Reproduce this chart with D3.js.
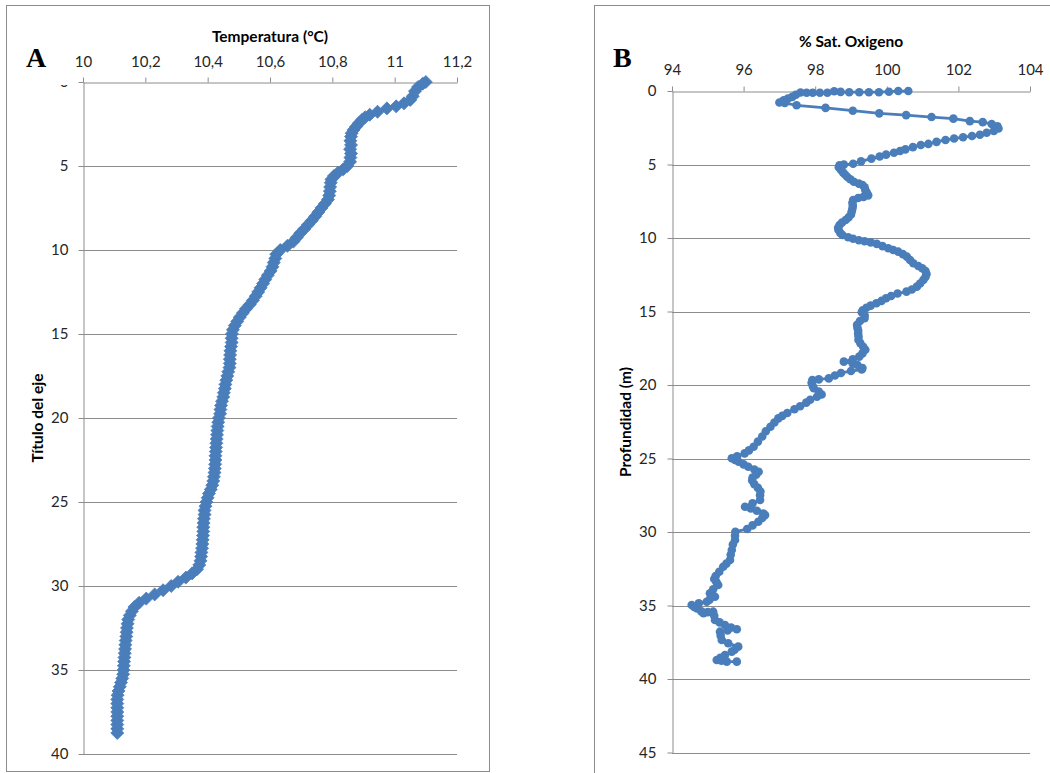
<!DOCTYPE html>
<html>
<head>
<meta charset="utf-8">
<script src="https://cdn.jsdelivr.net/npm/d3@7"></script>
<style>
  html, body { margin: 0; padding: 0; background: #fff; }
  svg { display: block; }
  .tick text { font-family: Lato, "Noto Sans", sans-serif; font-size: 15px; fill: #262626; }
  .title { font-family: Lato, "Noto Sans", sans-serif; font-size: 15.5px; font-weight: bold; fill: #000; }
  .panel-letter { font-family: "Liberation Serif", "DejaVu Serif", serif; font-size: 28px; font-weight: bold; fill: #000; }
</style>
</head>
<body>
<svg id="chart" width="1050" height="773"></svg>
<script>
// ---- Panel A: temperature profile ----
const tempDepth = [
  0.00, 0.10, 0.30, 0.55, 0.85, 1.07, 1.27, 1.45, 1.57, 1.77, 1.95, 2.10, 2.26, 2.45, 2.66, 2.85, 3.05,
  3.25, 3.50, 3.75, 4.00, 4.25, 4.50, 4.75, 5.00, 5.20, 5.40, 5.60, 5.80, 6.00, 6.25, 6.50, 6.75,
  7.00, 7.25, 7.50, 7.75, 8.00, 8.25, 8.50, 8.75, 9.00, 9.25, 9.50, 9.75, 10.00, 10.25, 10.50, 10.75,
  11.00, 11.25, 11.50, 11.75, 12.00, 12.25, 12.50, 12.75, 13.00, 13.25, 13.50, 13.75, 14.00, 14.25,
  14.50, 14.75, 15.00, 15.25, 15.50, 15.75, 16.00, 16.25, 16.50, 16.75, 17.00, 17.25, 17.50, 17.75,
  18.00, 18.25, 18.50, 18.75, 19.00, 19.25, 19.50, 19.75, 20.00, 20.25, 20.50, 20.75, 21.00, 21.25,
  21.50, 21.75, 22.00, 22.25, 22.50, 22.75, 23.00, 23.25, 23.50, 23.75, 24.00, 24.25, 24.50, 24.75,
  25.00, 25.25, 25.50, 25.75, 26.00, 26.25, 26.50, 26.75, 27.00, 27.25, 27.50, 27.75, 28.00, 28.25,
  28.50, 28.75, 29.00, 29.25, 29.50, 29.75, 30.00, 30.25, 30.50, 30.75, 31.00, 31.25, 31.50, 31.75,
  32.00, 32.25, 32.50, 32.75, 33.00, 33.25, 33.50, 33.75, 34.00, 34.25, 34.50, 34.75, 35.00, 35.25,
  35.50, 35.75, 36.00, 36.25, 36.50, 36.75, 37.00, 37.25, 37.50, 37.75, 38.00, 38.25, 38.50, 38.75
];
const tempValues = [
  11.100, 11.090, 11.075, 11.065, 11.058, 11.050, 11.030, 11.005, 10.975, 10.945, 10.920, 10.905, 10.895, 10.885, 10.876, 10.868, 10.862,
  10.860, 10.858, 10.860, 10.857, 10.860, 10.858, 10.857, 10.848, 10.835, 10.818, 10.805, 10.797, 10.795, 10.793, 10.792, 10.790,
  10.786, 10.776, 10.765, 10.755, 10.745, 10.734, 10.722, 10.710, 10.697, 10.686, 10.675, 10.656, 10.633, 10.620, 10.617, 10.612,
  10.608, 10.602, 10.593, 10.585, 10.578, 10.570, 10.562, 10.554, 10.545, 10.535, 10.523, 10.513, 10.503, 10.495,
  10.487, 10.481, 10.478, 10.477, 10.477, 10.475, 10.473, 10.472, 10.471, 10.471, 10.470, 10.466, 10.463, 10.460,
  10.457, 10.455, 10.452, 10.450, 10.446, 10.443, 10.441, 10.440, 10.436, 10.434, 10.432, 10.431, 10.430, 10.429,
  10.428, 10.427, 10.426, 10.425, 10.425, 10.424, 10.423, 10.422, 10.420, 10.418, 10.415, 10.410, 10.404, 10.400,
  10.396, 10.393, 10.390, 10.390, 10.388, 10.387, 10.386, 10.386, 10.385, 10.384, 10.383, 10.382, 10.380, 10.379,
  10.377, 10.373, 10.366, 10.350, 10.330, 10.305, 10.283, 10.257, 10.230, 10.203, 10.180, 10.165, 10.157, 10.150,
  10.145, 10.143, 10.141, 10.140, 10.139, 10.137, 10.136, 10.135, 10.134, 10.133, 10.132, 10.131, 10.130, 10.129,
  10.126, 10.122, 10.118, 10.114, 10.111, 10.110, 10.110, 10.110, 10.110, 10.110, 10.110, 10.110, 10.110, 10.110
];
const tempTicks = [10, 10.2, 10.4, 10.6, 10.8, 11, 11.2];
const tempTickLabels = ["10", "10,2", "10,4", "10,6", "10,8", "11", "11,2"];
const depthTicksA = [0, 5, 10, 15, 20, 25, 30, 35, 40];

// ---- Panel B: oxygen saturation profile ----
const oxyDepth = [
  0.00, 0.00, 0.05, 0.08, 0.08, 0.08, 0.08, 0.06, 0.02, 0.12, 0.12, 0.12, 0.12, 0.10, 0.25, 0.40, 0.52, 0.64, 0.78, 0.82,
  0.97, 1.15, 1.34, 1.52, 1.64, 1.77, 1.88, 2.05, 2.12, 2.24, 2.40, 2.55, 2.72, 2.84, 2.98, 3.06, 3.15, 3.23, 3.33, 3.46,
  3.60, 3.67, 3.82, 3.97, 4.08, 4.20, 4.33, 4.46, 4.60, 4.79, 4.95, 5.01, 5.06, 5.18, 5.37, 5.55, 5.70, 5.85, 6.00, 6.17,
  6.30, 6.40, 6.55, 6.73, 6.90, 7.10, 7.20, 7.28, 7.42, 7.60, 7.80, 8.00, 8.20, 8.40, 8.60, 8.78, 8.95, 9.12, 9.30, 9.46,
  9.65, 9.80, 9.95, 10.05, 10.15, 10.22, 10.30, 10.40, 10.55, 10.70, 10.82, 10.93, 11.10, 11.27, 11.50, 11.72, 11.90, 12.06,
  12.25, 12.45, 12.65, 12.86, 13.10, 13.31, 13.50, 13.65, 13.78, 13.95, 14.10, 14.28, 14.44, 14.60, 14.75, 14.92, 15.05, 15.25,
  15.45, 15.65, 15.90, 16.10, 16.30, 16.50, 16.70, 16.94, 17.15, 17.40, 17.60, 17.85, 18.07, 18.25, 18.41, 18.55, 18.64, 18.85,
  18.95, 19.05, 19.18, 19.35, 19.55, 19.62, 19.66, 19.85, 20.05, 20.22, 20.45, 20.65, 20.80, 21.00, 21.20, 21.45, 21.65, 21.90,
  22.10, 22.27, 22.55, 22.84, 23.15, 23.50, 23.85, 24.20, 24.45, 24.65, 24.85, 24.98, 25.10, 25.22, 25.40, 25.56, 25.75, 25.90,
  26.10, 26.30, 26.50, 26.75, 27.00, 27.25, 27.50, 27.82, 28.05, 28.28, 28.40, 28.55, 28.75, 28.85, 29.05, 29.30, 29.55, 29.80,
  29.98, 30.25, 30.54, 30.85, 31.22, 31.55, 31.90, 32.15, 32.36, 32.70, 33.00, 33.20, 33.40, 33.60, 33.90, 34.17, 34.30, 34.40,
  34.60, 34.74, 34.85, 34.97, 35.10, 35.20, 35.40, 35.53, 35.45, 35.42, 35.70, 35.99, 36.15, 36.33, 36.50, 36.62, 36.70, 36.78,
  37.05, 37.35, 37.57, 37.80, 38.00, 38.14, 38.37, 38.55, 38.71, 38.75, 38.82, 38.82
];
const oxyValues = [
  100.60, 100.32, 100.06, 99.78, 99.50, 99.23, 98.95, 98.71, 98.53, 98.34, 98.13, 97.93, 97.76, 97.59, 97.46, 97.36, 97.24, 97.12, 97.00, 97.15,
  97.48, 98.29, 99.05, 99.79, 100.54, 101.25, 101.86, 102.32, 102.68, 102.93, 103.09, 103.12, 102.99, 102.79, 102.60, 102.38, 102.13, 101.88, 101.64, 101.39,
  101.16, 100.95, 100.73, 100.52, 100.37, 100.20, 99.98, 99.80, 99.57, 99.28, 99.06, 98.80, 98.68, 98.66, 98.72, 98.78, 98.84, 98.90, 98.98, 99.08,
  99.22, 99.32, 99.38, 99.40, 99.44, 99.48, 99.35, 99.20, 99.06, 99.04, 99.05, 99.04, 99.02, 99.00, 98.93, 98.85, 98.75, 98.68, 98.64, 98.65,
  98.70, 98.76, 98.92, 99.06, 99.22, 99.38, 99.55, 99.72, 99.88, 100.04, 100.18, 100.32, 100.45, 100.56, 100.65, 100.74, 100.88, 100.99,
  101.08, 101.11, 101.08, 101.02, 100.93, 100.84, 100.70, 100.55, 100.30, 100.12, 99.98, 99.85, 99.71, 99.55, 99.43, 99.33, 99.30, 99.38,
  99.38, 99.25, 99.17, 99.18, 99.20, 99.20, 99.21, 99.21, 99.26, 99.34, 99.40, 99.32, 99.23, 99.05, 98.80, 99.05, 99.18, 99.32,
  99.30, 99.00, 98.72, 98.55, 98.38, 98.10, 97.92, 97.90, 97.93, 97.96, 98.10, 98.18, 98.05, 97.86, 97.75, 97.58, 97.42, 97.22,
  97.08, 96.97, 96.86, 96.75, 96.62, 96.52, 96.40, 96.28, 96.15, 96.03, 95.82, 95.67, 95.76, 95.86, 96.00, 96.13, 96.30, 96.42,
  96.35, 96.25, 96.24, 96.30, 96.40, 96.47, 96.46, 96.46, 96.25, 96.04, 96.20, 96.37, 96.55, 96.60, 96.52, 96.41, 96.25, 96.10,
  95.77, 95.76, 95.76, 95.70, 95.67, 95.64, 95.62, 95.52, 95.43, 95.32, 95.22, 95.18, 95.24, 95.29, 95.15, 95.06, 95.13, 95.20,
  95.05, 94.97, 94.75, 94.55, 94.62, 94.70, 94.82, 94.88, 95.00, 95.15, 95.18, 95.20, 95.33, 95.48, 95.65, 95.81, 95.55, 95.34,
  95.36, 95.39, 95.57, 95.85, 95.75, 95.67, 95.48, 95.35, 95.25, 95.38, 95.53, 95.81
];
const oxyTicks = [94, 96, 98, 100, 102, 104];
const oxyTickLabels = ["94", "96", "98", "100", "102", "104"];
const depthTicksB = [0, 5, 10, 15, 20, 25, 30, 35, 40, 45];

const seriesColor = "#4a7ebb";
const axisColor = "#8c8c8c";

const svg = d3.select("#chart");
svg.append("rect").attr("width", 1050).attr("height", 773).attr("fill", "#fff");

// Outer chart frames
svg.append("rect").attr("x", 6.5).attr("y", 5.5).attr("width", 483).attr("height", 766)
  .attr("fill", "none").attr("stroke", axisColor);
svg.append("rect").attr("x", 594.5).attr("y", 5.5).attr("width", 480).attr("height", 790)
  .attr("fill", "none").attr("stroke", axisColor);

function drawFrame(opts) {
  const { x, y, xTicks, xLabels, yTicks, xPad, yPad } = opts;
  const g = svg.append("g");
  const [x0, x1] = x.range();

  // horizontal gridlines
  g.append("g").selectAll("line")
    .data(yTicks.filter(d => d > 0))
    .join("line")
    .attr("x1", x0).attr("x2", x1)
    .attr("y1", d => Math.round(y(d)) + 0.5).attr("y2", d => Math.round(y(d)) + 0.5)
    .attr("stroke", axisColor).attr("stroke-width", 1);

  // top value axis
  const xAxis = d3.axisTop(x).tickValues(xTicks)
    .tickFormat((d, i) => xLabels[i]).tickSize(5).tickSizeOuter(0).tickPadding(xPad);
  const gx = g.append("g").attr("transform", `translate(0,${Math.round(y(0)) + 0.5})`).call(xAxis);

  // left depth axis
  const yAxis = d3.axisLeft(y).tickValues(yTicks).tickSize(5).tickSizeOuter(0).tickPadding(yPad);
  const gy = g.append("g").attr("transform", `translate(${Math.round(x0) + 0.5},0)`).call(yAxis);

  [gx, gy].forEach(a => {
    a.select(".domain").attr("stroke", axisColor);
    a.selectAll(".tick line").attr("stroke", axisColor);
    a.selectAll(".tick text").attr("font-family", null).attr("font-size", null);
  });
  return { g, gx, gy };
}

// ---------- Panel A ----------
const xA = d3.scaleLinear().domain([10, 11.2]).range([83, 457]);
const yA = d3.scaleLinear().domain([0, 40]).range([82, 754]);
const frameA = drawFrame({ x: xA, y: yA, xTicks: tempTicks, xLabels: tempTickLabels, yTicks: depthTicksA, xPad: 11, yPad: 10 });

// the surface label sits partly under the value-axis band
svg.append("clipPath").attr("id", "clipZeroA")
  .append("rect").attr("x", -40).attr("y", 2.5).attr("width", 40).attr("height", 20);
frameA.gy.selectAll(".tick").filter(d => d === 0).select("text").attr("clip-path", "url(#clipZeroA)");

const diamond = d3.symbol().type(d3.symbolDiamond2).size(108);
svg.append("g").selectAll("path")
  .data(tempDepth.map((d, i) => ({ depth: d, value: tempValues[i] })))
  .join("path")
  .attr("d", diamond)
  .attr("transform", p => `translate(${xA(p.value)},${yA(p.depth)})`)
  .attr("fill", seriesColor).attr("stroke", seriesColor).attr("stroke-width", 0.8);

svg.append("text").attr("class", "title").attr("x", 270).attr("y", 42)
  .attr("text-anchor", "middle").text("Temperatura (°C)");
svg.append("text").attr("class", "title")
  .attr("transform", "translate(43,418) rotate(-90)")
  .attr("text-anchor", "middle").text("Título del eje");
svg.append("text").attr("class", "panel-letter").attr("x", 26).attr("y", 67).text("A");

// ---------- Panel B ----------
const xB = d3.scaleLinear().domain([94, 104]).range([672, 1030]);
const yB = d3.scaleLinear().domain([0, 45]).range([91, 752.5]);
drawFrame({ x: xB, y: yB, xTicks: oxyTicks, xLabels: oxyTickLabels, yTicks: depthTicksB, xPad: 12, yPad: 11 });

const oxyData = oxyDepth.map((d, i) => ({ depth: d, value: oxyValues[i] }));
svg.append("path")
  .datum(oxyData)
  .attr("d", d3.line().x(p => xB(p.value)).y(p => yB(p.depth)))
  .attr("fill", "none").attr("stroke", seriesColor).attr("stroke-width", 2.75)
  .attr("stroke-linejoin", "round");
svg.append("g").selectAll("circle")
  .data(oxyData)
  .join("circle")
  .attr("cx", p => xB(p.value)).attr("cy", p => yB(p.depth))
  .attr("r", 4.3).attr("fill", seriesColor);

svg.append("text").attr("class", "title").attr("x", 851).attr("y", 47)
  .attr("text-anchor", "middle").text("% Sat. Oxigeno");
svg.append("text").attr("class", "title")
  .attr("transform", "translate(631,422) rotate(-90)")
  .attr("text-anchor", "middle").text("Profundidad (m)");
svg.append("text").attr("class", "panel-letter").attr("x", 613).attr("y", 67).text("B");
</script>
</body>
</html>
